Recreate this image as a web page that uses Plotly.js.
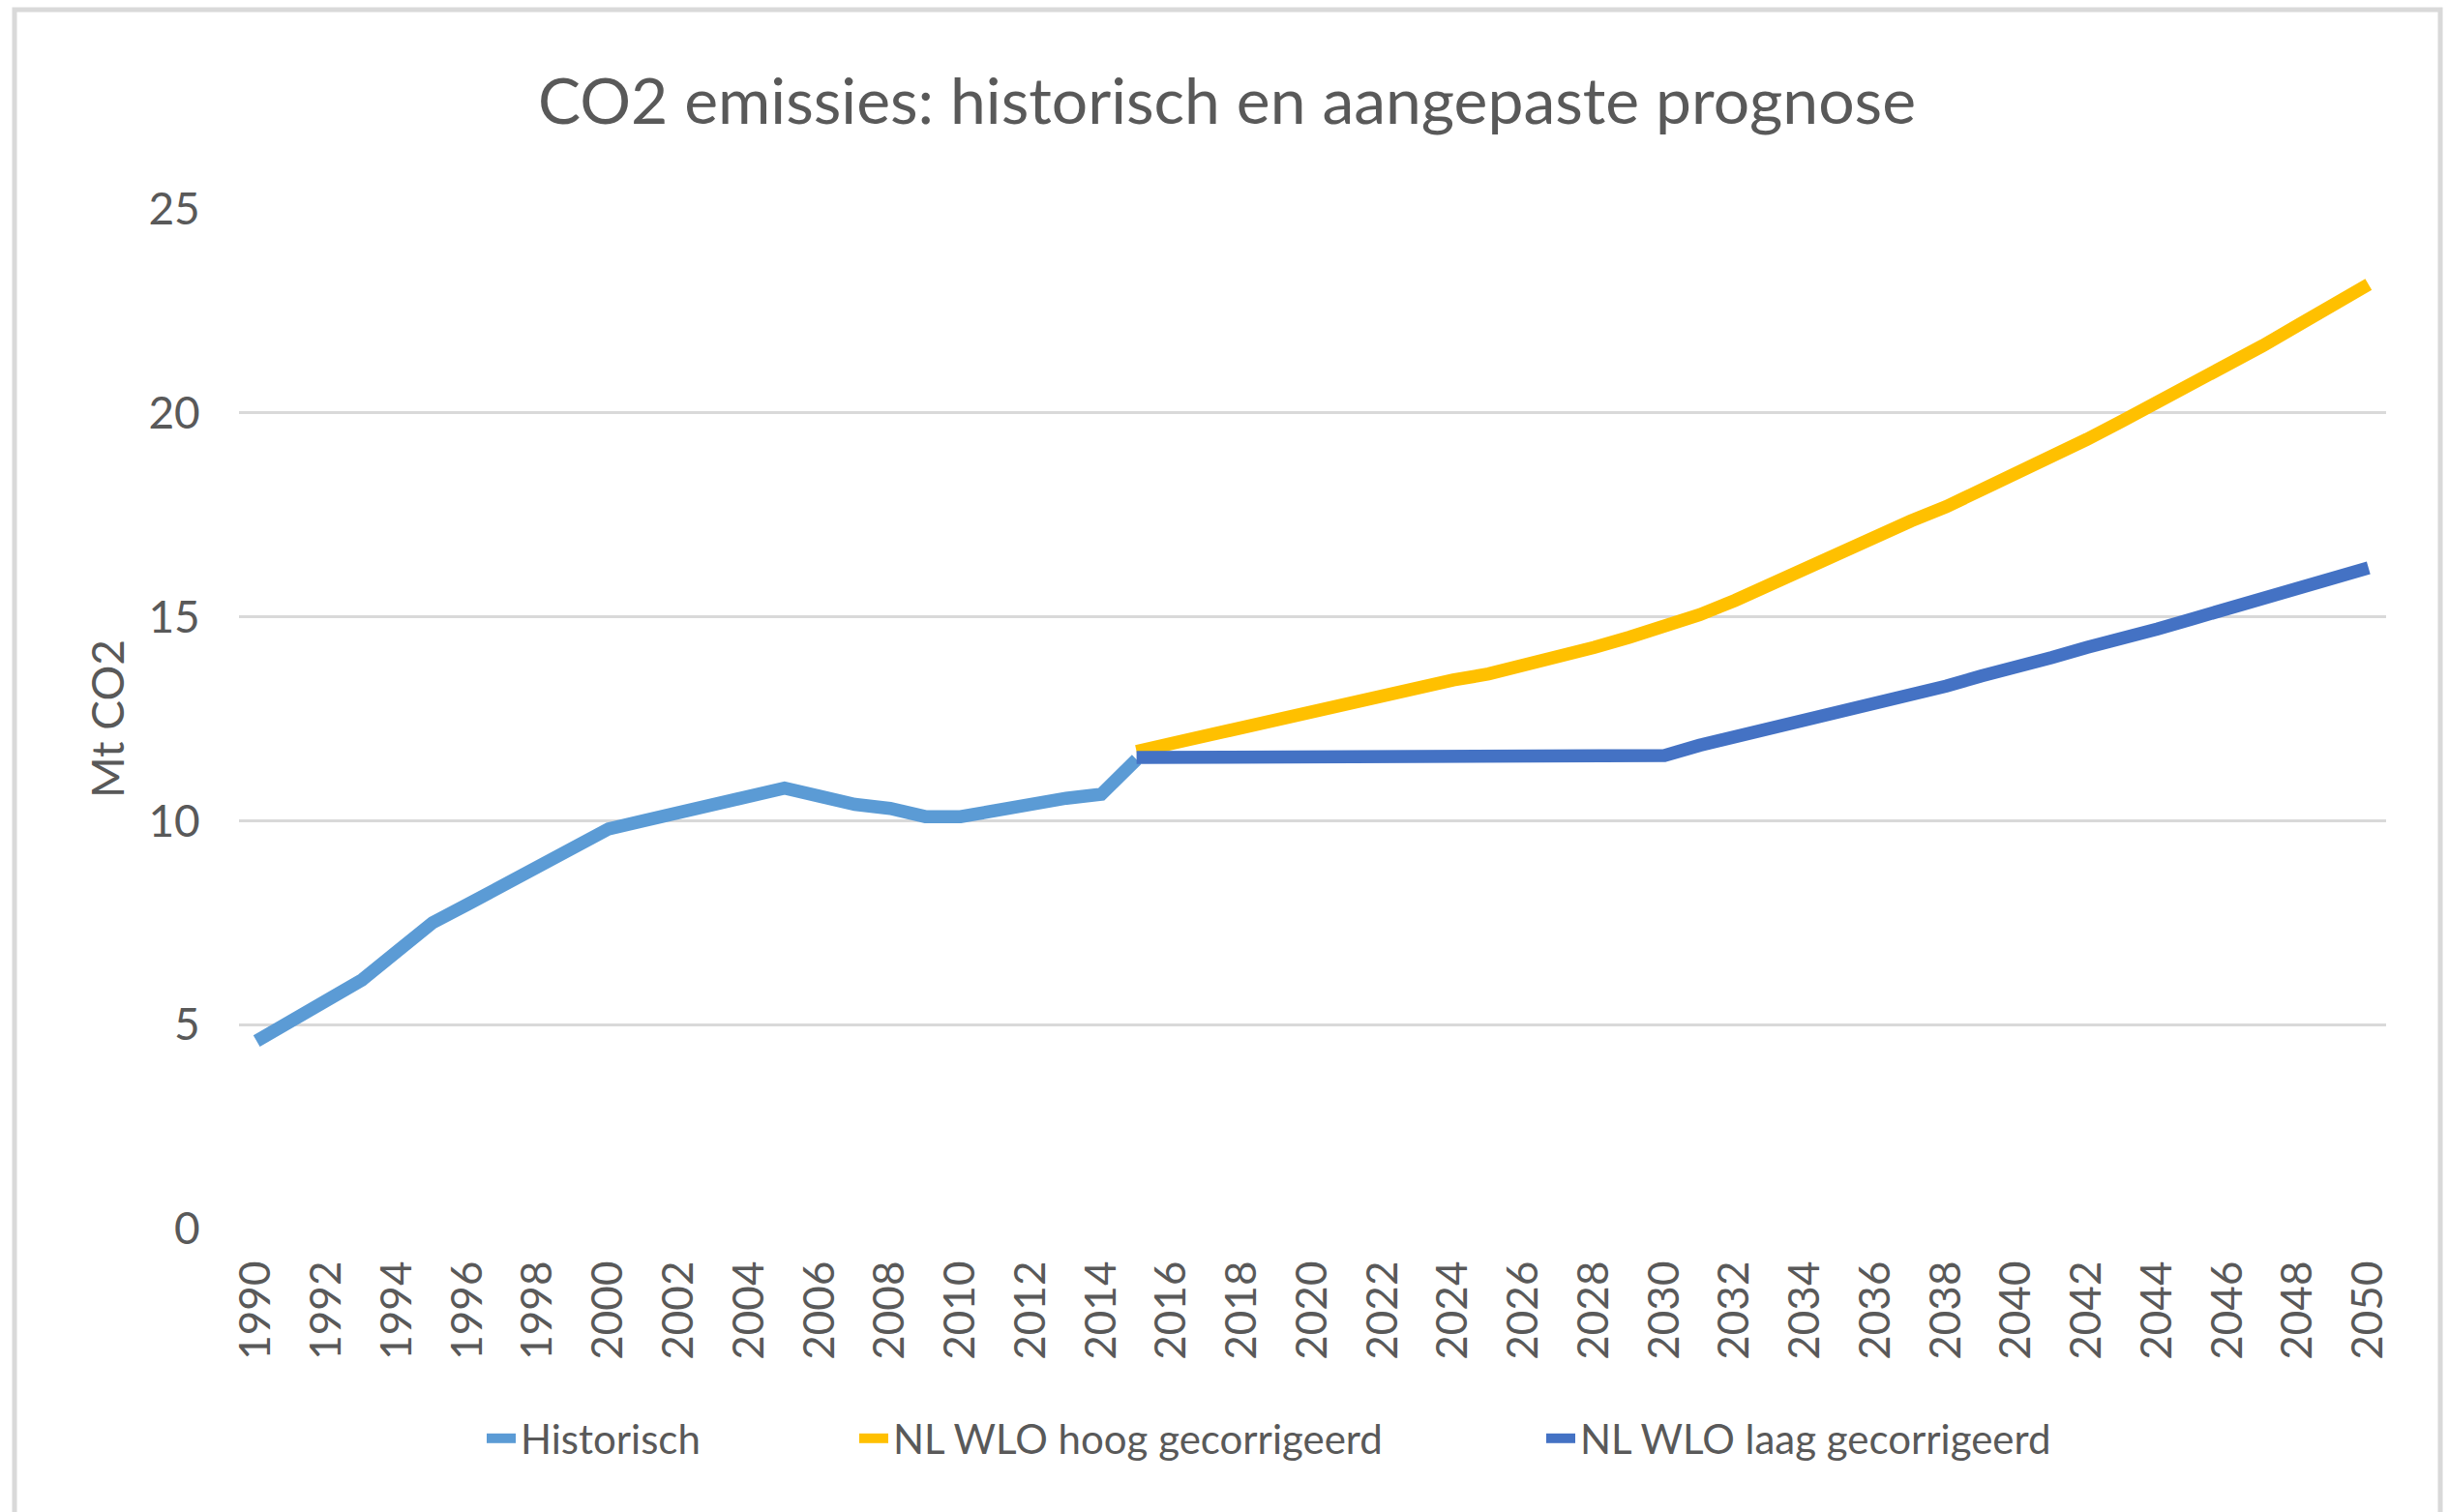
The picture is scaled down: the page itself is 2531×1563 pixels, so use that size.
<!DOCTYPE html>
<html>
<head>
<meta charset="utf-8">
<script src="https://cdn.plot.ly/plotly-3.0.1.min.js"></script>
<style>
  html, body { margin: 0; padding: 0; background: #ffffff; }
  #chart { width: 2531px; height: 1563px; }
</style>
</head>
<body>
<div id="chart"></div>
<script>
// ---- Data ----
const histYears = [1990, 1991, 1992, 1993, 1994, 1995, 1996, 1997, 1998, 1999,
                   2000, 2001, 2002, 2003, 2004, 2005, 2006, 2007, 2008, 2009,
                   2010, 2011, 2012, 2013, 2014, 2015];
const historisch = [4.6, 5.1, 5.6, 6.1, 6.8, 7.5, 7.95, 8.4, 8.85, 9.3,
                    9.8, 10.0, 10.2, 10.4, 10.6, 10.8, 10.6, 10.4, 10.3, 10.1,
                    10.1, 10.25, 10.45, 10.55, 10.65, 11.5];

const projYears = [2015, 2016, 2017, 2018, 2019, 2020, 2021, 2022, 2023, 2024,
                   2025, 2026, 2027, 2028, 2029, 2030, 2031, 2032, 2033, 2034,
                   2035, 2036, 2037, 2038, 2039, 2040, 2041, 2042, 2043, 2044,
                   2045, 2046, 2047, 2048, 2049, 2050];
const wloHoog = [11.7, 11.9, 12.1, 12.3, 12.5, 12.7, 12.9, 13.05, 13.25, 13.45,
                 13.6, 13.8, 14.05, 14.25, 14.5, 14.75, 15.05, 15.4, 15.8, 16.15,
                 16.55, 16.95, 17.35, 17.7, 18.1, 18.5, 18.9, 19.35, 19.8, 20.25,
                 20.7, 21.15, 21.65, 22.15, 22.65, 23.15];
const wloLaag = [11.55, 11.55, 11.55, 11.55, 11.55, 11.55, 11.6, 11.6, 11.6, 11.6,
                 11.6, 11.6, 11.6, 11.6, 11.6, 11.6, 11.85, 12.05, 12.25, 12.45,
                 12.65, 12.9, 13.1, 13.3, 13.55, 13.75, 14.0, 14.25, 14.45, 14.7,
                 14.95, 15.2, 15.45, 15.7, 15.95, 16.2];

const seriesNames = ["Historisch", "NL WLO hoog gecorrigeerd", "NL WLO laag gecorrigeerd"];
const seriesColors = ["#5B9BD5", "#FFC000", "#4472C4"];

const xTickVals = [1990, 1992, 1994, 1996, 1998, 2000, 2002, 2004, 2006, 2008,
                   2010, 2012, 2014, 2016, 2018, 2020, 2022, 2024, 2026, 2028,
                   2030, 2032, 2034, 2036, 2038, 2040, 2042, 2044, 2046, 2048, 2050];
const yTickVals = [0, 5, 10, 15, 20, 25];

// ---- Layout geometry (pixels) ----
const W = 2531, H = 1563;
const M = { l: 247, r: 65, t: 216, b: 293 };
const PW = W - M.l - M.r, PH = H - M.t - M.b;
const px2x = p => (p - M.l) / PW;
const px2y = p => (H - M.b - p) / PH;

const FONT = "Lato, 'Open Sans', sans-serif";
const TXT = "#595959";

const traces = [
  { x: histYears, y: historisch, name: seriesNames[0], legend: "legend" },
  { x: projYears, y: wloHoog, name: seriesNames[1], legend: "legend2" },
  { x: projYears, y: wloLaag, name: seriesNames[2], legend: "legend3" }
].map((t, i) => Object.assign(t, {
  type: "scatter",
  mode: "lines",
  showlegend: true,
  line: { color: seriesColors[i], width: 13.5 },
  hoverinfo: "x+y+name"
}));

const legendBase = {
  orientation: "h",
  yanchor: "middle",
  xanchor: "left",
  y: px2y(1487),
  bgcolor: "rgba(0,0,0,0)",
  borderwidth: 0,
  font: { family: FONT, size: 42, color: TXT }
};

const layout = {
  width: W,
  height: H,
  margin: M,
  showlegend: true,
  paper_bgcolor: "#ffffff",
  plot_bgcolor: "#ffffff",
  font: { family: FONT, color: TXT },
  title: {
    text: "CO2 emissies: historisch en aangepaste prognose",
    font: { family: FONT, size: 66, color: TXT },
    xref: "container", x: 1268 / W, xanchor: "center",
    yref: "container", y: 1 - 105 / H, yanchor: "middle"
  },
  xaxis: {
    type: "linear",
    range: [1989.5, 2050.5],
    tickmode: "array",
    tickvals: xTickVals,
    ticktext: xTickVals.map(String),
    tickangle: -90,
    ticks: "outside",
    ticklen: 15,
    tickcolor: "rgba(0,0,0,0)",
    tickfont: { family: FONT, size: 44, color: TXT },
    showgrid: false,
    zeroline: false,
    showline: false,
    fixedrange: true
  },
  yaxis: {
    range: [0, 25],
    tickmode: "array",
    tickvals: yTickVals,
    ticktext: yTickVals.map(String),
    ticks: "outside",
    ticklen: 30,
    tickcolor: "rgba(0,0,0,0)",
    tickfont: { family: FONT, size: 46, color: TXT },
    showgrid: true,
    gridcolor: "#D9D9D9",
    gridwidth: 3,
    zeroline: false,
    showline: false,
    title: {
      text: "Mt CO2",
      font: { family: FONT, size: 46, color: TXT },
      standoff: 10
    },
    fixedrange: true
  },
  legend: Object.assign({}, legendBase, { x: px2x(498) }),
  legend2: Object.assign({}, legendBase, { x: px2x(883) }),
  legend3: Object.assign({}, legendBase, { x: px2x(1593) }),
  shapes: [
    {
      type: "rect", xref: "paper", yref: "paper",
      x0: px2x(15), x1: px2x(2522), y0: px2y(1600), y1: px2y(10),
      line: { color: "#D9D9D9", width: 5 },
      fillcolor: "rgba(0,0,0,0)",
      layer: "below"
    }
  ]
};

Plotly.newPlot("chart", traces, layout, { displayModeBar: false, staticPlot: true });
</script>
</body>
</html>
